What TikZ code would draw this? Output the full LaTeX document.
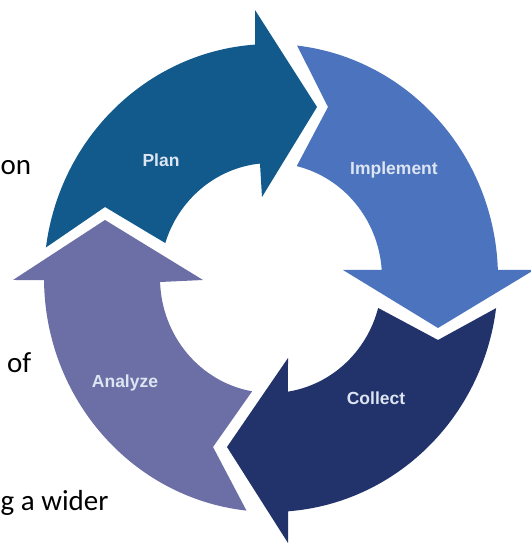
\documentclass[tikz,border=0pt]{standalone}
\usepackage{fontspec}
\setmainfont{Carlito}
\newfontfamily\labfont{Liberation Sans}
\definecolor{planc}{HTML}{115A8B}
\definecolor{implc}{HTML}{4C73BD}
\definecolor{collc}{HTML}{21336A}
\definecolor{analc}{HTML}{6B6FA5}
\definecolor{labc}{HTML}{DDE5F2}
\begin{document}
\begin{tikzpicture}[x=1pt,y=1pt,
  seg/.style={fill=#1, draw=none},
  lab/.style={font=\labfont\bfseries\fontsize{17.5}{20}\selectfont, text=labc, anchor=base, inner sep=0pt},
  side/.style={font=\fontsize{29}{34}\selectfont, text=black, anchor=base west, inner sep=0pt}]
\useasboundingbox (0,0) rectangle (530,546);
\begin{scope}[shift={(271,268)}]
% Plan
\path[seg=planc] (172.5:227 and 234)
  arc[start angle=172.5, end angle=94, x radius=227, y radius=234]
  -- (-16,268) -- (46,171) -- (-9,81) -- (95.7:111 and 115)
  arc[start angle=95.7, end angle=162.3, x radius=111, y radius=115]
  -- (-166,71) -- cycle;
% Implement
\path[seg=implc] (83.4:227 and 234)
  arc[start angle=83.4, end angle=2.0, x radius=227, y radius=234]
  -- (263,8) -- (167,-50) -- (72,8) -- (4.0:111 and 115)
  arc[start angle=4.0, end angle=76.6, x radius=111, y radius=115]
  -- (57,171) -- cycle;
% Collect
\path[seg=collc] (-7.4:227 and 234)
  arc[start angle=-7.4, end angle=-85.7, x radius=227, y radius=234]
  -- (17,-265) -- (-44,-169) -- (17,-80) -- (-81.2:111 and 115)
  arc[start angle=-81.2, end angle=-15.1, x radius=111, y radius=115]
  -- (167,-62) -- cycle;
% Analyze
\path[seg=analc] (-96.2:227 and 234)
  arc[start angle=-96.2, end angle=-179.5, x radius=227, y radius=234]
  -- (-258,-2) -- (-166,58) -- (-68,-2) -- (-178:111 and 115)
  arc[start angle=-178, end angle=-99.8, x radius=111, y radius=115]
  -- (-58,-169) -- cycle;
\end{scope}
\node[lab] (plan) at (161,379) {Plan};
\node[lab] (impl) at (394,371) {Implement};
\node[lab] (anal) at (125,158) {Analyze};
\node[lab] (coll) at (376,141) {Collect};
\node[side] (t1) at (0.5,371) {on};
\node[side] (t2) at (7,173) {of};
\node[side] (t3) at (0.5,35) {g a wider};
\end{tikzpicture}
\end{document}
